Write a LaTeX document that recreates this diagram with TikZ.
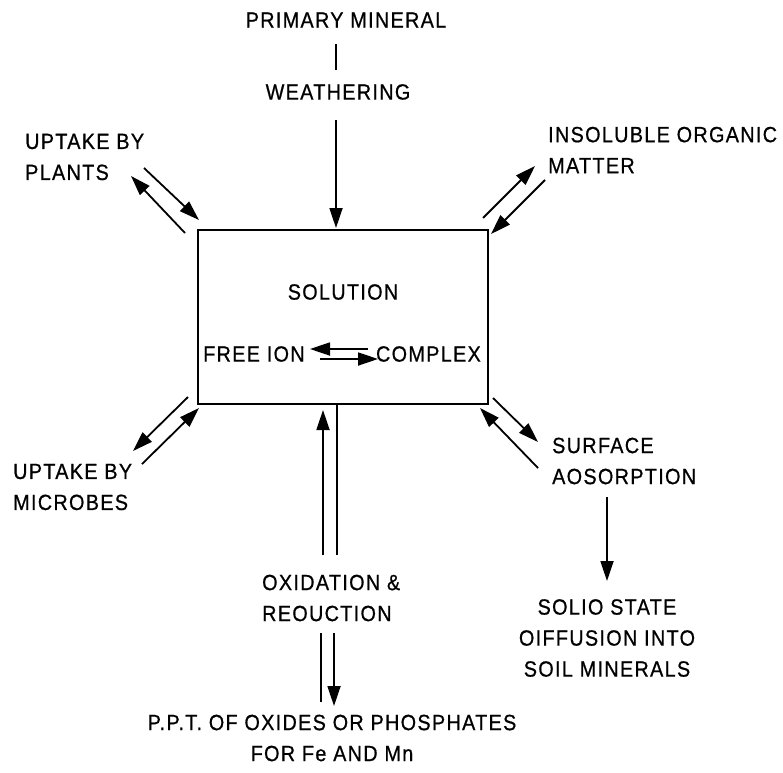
\documentclass[tikz,border=0pt]{standalone}
\usepackage{fontspec}
\setmainfont{Liberation Sans}[FakeBold=0.7, FakeStretch=0.9, LetterSpace=6]
\usetikzlibrary{arrows.meta}
\begin{document}
\begin{tikzpicture}[x=1pt,y=-1pt,
  lbl/.style={inner sep=0pt, font=\fontsize{22}{31}\selectfont},
  arr/.style={line width=1.8pt, -{Triangle[length=20pt,width=13pt]}},
  ln/.style={line width=1.8pt}]
\useasboundingbox (0,0) rectangle (783,772);
\fill[white] (0,0) rectangle (783,772);
% box
\node[draw, line width=2pt, minimum width=290pt, minimum height=174pt, inner sep=0pt, anchor=north west] (box) at (197,229) {};
% labels
\node[lbl] (pm) at (346,20) {PRIMARY MINERAL};
\node[lbl] (wea) at (338,92) {WEATHERING};
\node[lbl] (sol) at (343,292) {SOLUTION};
\node[lbl, anchor=west] (free) at (203,354) {FREE ION};
\node[lbl, anchor=east] (cpx) at (481,354) {COMPLEX};
\node[lbl, anchor=west, align=left] (plants) at (25,157) {UPTAKE BY\\PLANTS};
\node[lbl, anchor=west, align=left] (iom) at (548,150) {INSOLUBLE ORGANIC\\MATTER};
\node[lbl, anchor=west, align=left] (mic) at (13,487) {UPTAKE BY\\MICROBES};
\node[lbl, anchor=west, align=left] (surf) at (552,461) {SURFACE\\AOSORPTION};
\node[lbl, align=center] (ssd) at (607,638) {SOLIO STATE\\OIFFUSION INTO\\SOIL MINERALS};
\node[lbl, anchor=west, align=left] (ox) at (262,598) {OXIDATION \&\\REOUCTION};
\node[lbl, align=center] (ppt) at (332,738) {P.P.T. OF OXIDES OR PHOSPHATES\\FOR Fe AND Mn};
% coordinates
\coordinate (t1) at (336,44); \coordinate (t2) at (336,70);
\coordinate (t3) at (336,120); \coordinate (t4) at (336,228);
\coordinate (a1s) at (144,168); \coordinate (a1e) at (199,220);
\coordinate (a2s) at (185,233); \coordinate (a2e) at (131,176);
\coordinate (b1s) at (483,218); \coordinate (b1e) at (535,166);
\coordinate (b2s) at (545,180); \coordinate (b2e) at (491,234);
\coordinate (c1s) at (188,397); \coordinate (c1e) at (133,451);
\coordinate (c2s) at (142,464); \coordinate (c2e) at (199,408);
\coordinate (d1s) at (493,398); \coordinate (d1e) at (538,442);
\coordinate (d2s) at (538,468); \coordinate (d2e) at (480,408);
\coordinate (s1) at (607,497); \coordinate (s2) at (607,581);
\coordinate (u1) at (323,555); \coordinate (u2) at (323,410);
\coordinate (v1) at (337,404); \coordinate (v2) at (337,555);
\coordinate (p1) at (321,633); \coordinate (p2) at (321,702);
\coordinate (q1) at (334,633); \coordinate (q2) at (334,706);
\coordinate (f1) at (368,349); \coordinate (f2) at (310,349);
\coordinate (g1) at (320,359); \coordinate (g2) at (378,359);
% connectors
\draw[ln] (t1) -- (t2);
\draw[arr] (t3) -- (t4);
\draw[arr] (a1s) -- (a1e);
\draw[arr] (a2s) -- (a2e);
\draw[arr] (b1s) -- (b1e);
\draw[arr] (b2s) -- (b2e);
\draw[arr] (c1s) -- (c1e);
\draw[arr] (c2s) -- (c2e);
\draw[arr] (d1s) -- (d1e);
\draw[arr] (d2s) -- (d2e);
\draw[arr] (s1) -- (s2);
\draw[arr] (u1) -- (u2);
\draw[ln] (v1) -- (v2);
\draw[ln] (p1) -- (p2);
\draw[arr] (q1) -- (q2);
\draw[arr] (f1) -- (f2);
\draw[arr] (g1) -- (g2);
\end{tikzpicture}
\end{document}
